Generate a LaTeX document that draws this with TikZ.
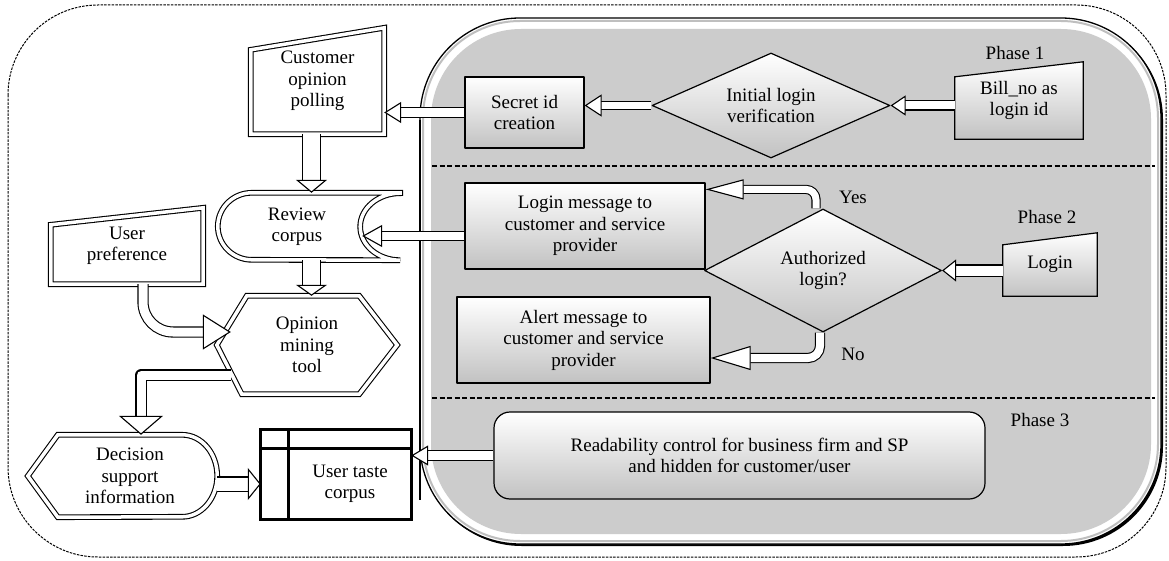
\documentclass[tikz,border=0pt]{standalone}
\usepackage{fontspec}
\setmainfont{Liberation Serif}
\usepackage{tikz}
\usetikzlibrary{calc,shapes.geometric,arrows.meta}
\definecolor{frmgray}{rgb}{0.8,0.8,0.8}
\definecolor{boxgray}{rgb}{0.76,0.76,0.76}
\pgfdeclarelayer{frame}
\pgfdeclarelayer{shapes}
\pgfsetlayers{frame,shapes,main}
\tikzset{
  dbl/.style={draw, line width=1.1pt, double=white, double distance=3.5pt},
  box/.style={draw, line width=1.2pt, top color=white, bottom color=boxgray},
  hol/.style n args={3}{line width=1.1pt, double=white, double distance=#1,
    -{Triangle[fill=white, line width=1.1pt, length=#2, width=#3]}},
}

\begin{document}
\begin{tikzpicture}[x=1pt,y=-1pt,line join=round,
    every node/.style={font=\fontsize{19}{21.5}\selectfont, inner sep=0pt, align=center}]
\useasboundingbox (0,0) rectangle (1169,561);

\begin{pgfonlayer}{frame}
\draw[line width=1pt, dash pattern=on 2.5pt off 1.2pt, rounded corners=90pt] (8,5) rectangle (1166,557);
\fill[black, rounded corners=100pt] (421.5,19.5) rectangle (1163,546);
\draw[line width=1.3pt, fill=white, rounded corners=100pt] (420,18) rectangle (1161,544);
\draw[black!25, line width=2pt, rounded corners=97pt] (423,21) rectangle (1158,541);
\fill[frmgray, rounded corners=90pt] (431,29) rectangle (1151,534);
\draw[line width=2.6pt] (420,120) -- (420,500);
\draw[line width=1.1pt, dash pattern=on 5pt off 2.5pt] (432,166) -- (1155,166);
\draw[line width=1.1pt, dash pattern=on 5pt off 2.5pt] (432,398) -- (1155,398);
\end{pgfonlayer}

% left column
\node[minimum width=133pt, minimum height=106pt] (cop) at (317.5,81) {Customer\\opinion\\polling};
\node[minimum width=152pt, minimum height=76pt] (upref) at (127,246) {User\\preference};
\node[minimum width=158pt, minimum height=67pt] (rev) at (297,226.5) {Review\\corpus};
\node[minimum width=180pt, minimum height=98pt] (opm) at (307,345) {Opinion\\mining\\tool};
\node[minimum width=174pt, minimum height=82pt] (dsi) at (130,476) {Decision\\support\\information};
\node[minimum width=122pt, minimum height=70pt] (utc) at (350,484) {User taste\\corpus};

% phases
\node[box, minimum width=119pt, minimum height=71pt] (sid) at (524.5,112.5) {Secret id\\creation};
\node[box, diamond, aspect=2.2, minimum width=238pt, minimum height=105pt] (ilv) at (771,105.5) {Initial login\\verification};
\node[minimum width=128pt, minimum height=77pt] (bill) at (1019,100.5) {Bill\_no as\\login id};
\node[box, minimum width=240pt, minimum height=86pt] (lmsg) at (585,226) {Login message to\\customer and service\\provider};
\node[box, minimum width=253pt, minimum height=86pt] (amsg) at (583.5,340) {Alert message to\\customer and service\\provider};
\node[box, diamond, aspect=2, minimum width=237pt, minimum height=123pt] (auth) at (823,270.5) {Authorized\\login?};
\node[minimum width=94pt, minimum height=63pt] (login) at (1050,264.5) {Login};
\node[box, rounded corners=16pt, minimum width=491pt, minimum height=87pt] (rdb) at (739.5,455.5) {Readability control for business firm and SP\\and hidden for customer/user};

\node (ph1) at (1015,53) {Phase 1};
\node (ph2) at (1047,217) {Phase 2};
\node (ph3) at (1040,420) {Phase 3};
\node (yes) at (853,197) {Yes};
\node (no) at (853,354) {No};

\begin{pgfonlayer}{shapes}
\draw[dbl] (cop.south west) -- ($(cop.north west)+(0,22)$) -- (cop.north east) -- (cop.south east) -- cycle;
\draw[dbl] (upref.south west) -- ($(upref.north west)+(0,17)$) -- (upref.north east) -- (upref.south east) -- cycle;
\draw[dbl] ($(rev.north east)+(24,0)$) -- ($(rev.north west)+(34,0)$)
  arc[start angle=90, end angle=270, x radius=34pt, y radius=33.5pt]
  -- ($(rev.south east)+(24,0)$)
  arc[start angle=270, end angle=90, x radius=40pt, y radius=33.5pt] -- cycle;
\draw[dbl] (opm.west) -- ($(opm.north west)+(30,0)$) -- ($(opm.north east)+(-38,0)$) -- (opm.east)
  -- ($(opm.south east)+(-38,0)$) -- ($(opm.south west)+(25,0)$) -- cycle;
\draw[dbl] ($(dsi.west)+(-15,0)$) -- ($(dsi.north west)+(15,0)$) -- ($(dsi.north east)+(-35,0)$)
  arc[start angle=90, end angle=-90, x radius=35pt, y radius=41pt] -- ($(dsi.south west)+(15,0)$) -- cycle;
\draw[line width=3pt] ($(utc.north west)+(-28,-19)$) rectangle (utc.south east);
\draw[line width=3pt] ($(utc.north west)+(0,-19)$) -- (utc.south west);
\draw[line width=3pt] ($(utc.north west)+(-28,0)$) -- (utc.north east);
\draw[box] (bill.south west) -- ($(bill.north west)+(0,15)$) -- (bill.north east) -- (bill.south east) -- cycle;
\draw[box] (login.south west) -- ($(login.north west)+(0,12)$) -- (login.north east) -- (login.south east) -- cycle;
\end{pgfonlayer}

\coordinate (copout) at ($(cop.south)+(-6,0)$);
\coordinate (revin) at ($(rev.east)+(-14,9.5)$);
\coordinate (upout) at ($(upref.south)+(16,0)$);
\coordinate (opmin) at ($(opm.west)+(14,-13)$);
\coordinate (opmout) at ($(opm.west)+(14,30)$);
\coordinate (dsiin) at ($(dsi.north)+(11,0)$);
\coordinate (utcw) at ($(utc.west)+(-28,0)$);
\coordinate (yesout) at ($(auth.north)+(-7,0)$);
\coordinate (yesin) at ($(lmsg.north east)+(0,7)$);
\coordinate (noout) at ($(auth.south)+(-3,0)$);
\coordinate (noin) at ($(amsg.east)+(0,18)$);

\draw[hol={8pt}{15pt}{20pt}] (ilv.east -| bill.west) -- (ilv.east);
\draw[hol={7pt}{17pt}{22pt}] (ilv.west) -- (ilv.west -| sid.east);
\draw[hol={9pt}{17pt}{21pt}] (sid.west) -- (sid.west -| cop.east);
\draw[hol={17pt}{13pt}{31pt}] (copout) -- (copout |- rev.north);
\draw[hol={17pt}{11pt}{31pt}] (copout |- rev.south) -- (copout |- opm.north);
\draw[hol={8pt}{20pt}{22pt}] (lmsg.west |- revin) -- (revin);
\draw[hol={9pt}{28pt}{35pt}, rounded corners=30pt] (upout) -- (upout |- opmin) -- (opmin);
\draw[hol={9pt}{19pt}{44pt}] (opmout) -- (opmout -| dsiin) -- (dsiin);
\draw[hol={13pt}{13pt}{32pt}] (dsi.east |- utcw) -- (utcw);
\draw[hol={9pt}{17pt}{20pt}] (rdb.west) -- (rdb.west -| utc.east);
\draw[hol={10pt}{14pt}{22pt}] (auth.east -| login.west) -- (auth.east);
\draw[hol={7pt}{38pt}{20pt}, rounded corners=10pt] (yesout) -- (yesout |- yesin) -- (yesin);
\draw[hol={8pt}{40pt}{24pt}, rounded corners=12pt] (noout) -- (noout |- noin) -- (noin);
\end{tikzpicture}
\end{document}
